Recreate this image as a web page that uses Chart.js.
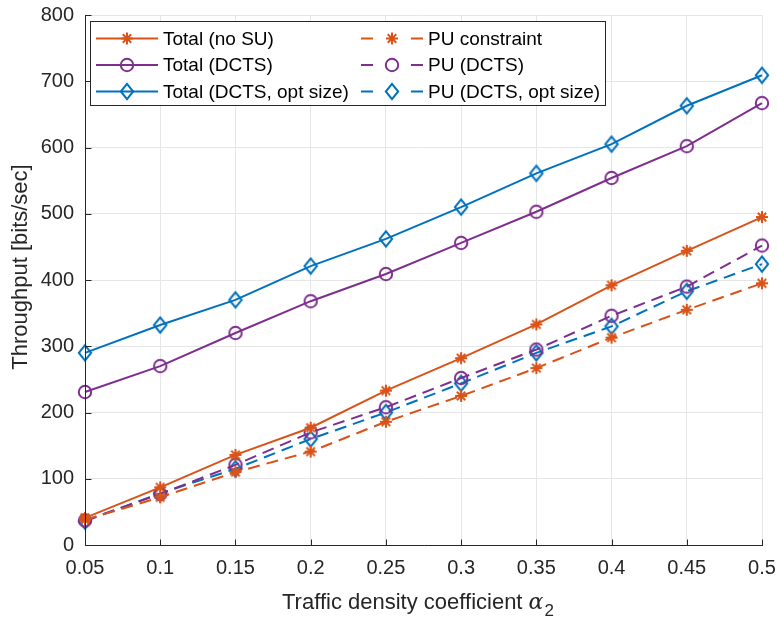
<!DOCTYPE html>
<html>
<head>
<meta charset="utf-8">
<script src="https://cdn.jsdelivr.net/npm/chart.js@4/dist/chart.umd.min.js"></script>
<style>
  html, body { margin: 0; padding: 0; background: #fff; }
  #wrap { width: 778px; height: 619px; }
</style>
</head>
<body>
<div id="wrap"><canvas id="c" width="778" height="619"></canvas></div>
<script>
// ---- data ----
const categories = [0.05, 0.1, 0.15, 0.2, 0.25, 0.3, 0.35, 0.4, 0.45, 0.5];
const xTickLabels = ['0.05', '0.1', '0.15', '0.2', '0.25', '0.3', '0.35', '0.4', '0.45', '0.5'];
const yTicks = [0, 100, 200, 300, 400, 500, 600, 700, 800];
const totalNoSU   = [41, 87, 136, 177, 233, 282, 333, 392, 444, 495];
const totalDCTS   = [231, 270, 320, 368, 409, 456, 503, 554, 602, 667];
const totalOpt    = [290, 332, 370, 421, 462, 510, 561, 605, 663, 709];
const puConstr    = [38, 72, 110, 141, 186, 225, 267, 313, 355, 395];
const puDCTS      = [37, 77, 121, 170, 208, 252, 295, 346, 390, 452];
const puOpt       = [36, 78, 115, 160, 200, 244, 290, 330, 383, 424];
const seriesLabels = ['Total (no SU)', 'Total (DCTS)', 'Total (DCTS, opt size)',
                      'PU constraint', 'PU (DCTS)', 'PU (DCTS, opt size)'];

const ORANGE = '#D95319', PURPLE = '#7E2F8E', BLUE = '#0072BD';
const AXIS = '#262626';
const FONT = '"Liberation Sans", Arial, Helvetica, sans-serif';
const DASH = [12, 7];

function drawMarker(ctx, type, x, y, color) {
  ctx.save();
  ctx.strokeStyle = color;
  ctx.lineWidth = 2;
  ctx.setLineDash([]);
  ctx.beginPath();
  if (type === 'star') {
    const r = 6;
    for (let k = 0; k < 4; k++) {
      const a = k * Math.PI / 4;
      ctx.moveTo(x - r * Math.cos(a), y - r * Math.sin(a));
      ctx.lineTo(x + r * Math.cos(a), y + r * Math.sin(a));
    }
  } else if (type === 'circle') {
    ctx.arc(x, y, 6.2, 0, Math.PI * 2);
  } else if (type === 'diamond') {
    ctx.moveTo(x, y - 7.6);
    ctx.lineTo(x + 6.2, y);
    ctx.lineTo(x, y + 7.6);
    ctx.lineTo(x - 6.2, y);
    ctx.closePath();
  }
  ctx.stroke();
  ctx.restore();
}

function markerCanvas(type, color) {
  const c = document.createElement('canvas');
  c.width = 22; c.height = 22;
  drawMarker(c.getContext('2d'), type, 11, 11, color);
  return c;
}

const specs = [
  { data: totalNoSU, color: ORANGE, marker: 'star', dash: [] },
  { data: totalDCTS, color: PURPLE, marker: 'circle', dash: [] },
  { data: totalOpt,  color: BLUE,   marker: 'diamond', dash: [] },
  { data: puConstr,  color: ORANGE, marker: 'star', dash: DASH },
  { data: puDCTS,    color: PURPLE, marker: 'circle', dash: DASH },
  { data: puOpt,     color: BLUE,   marker: 'diamond', dash: DASH }
];

const datasets = specs.map((s, i) => ({
  label: seriesLabels[i],
  data: categories.map((x, j) => ({ x: x, y: s.data[j] })),
  borderColor: s.color,
  backgroundColor: s.color,
  borderWidth: 2,
  borderDash: s.dash,
  pointStyle: markerCanvas(s.marker, s.color),
  pointRadius: 8,
  pointHoverRadius: 8,
  tension: 0,
  fill: false,
  clip: 10
}));

const decorPlugin = {
  id: 'decor',
  afterDraw(chart) {
    const ctx = chart.ctx;
    const a = chart.chartArea;
    const xs = chart.scales.x, ys = chart.scales.y;
    ctx.save();
    // axes lines (left + bottom only)
    ctx.strokeStyle = AXIS;
    ctx.lineWidth = 1;
    const L = Math.round(a.left) + 0.5, B = Math.round(a.bottom) + 0.5;
    ctx.beginPath();
    ctx.moveTo(L, Math.round(a.top)); ctx.lineTo(L, B);
    ctx.lineTo(Math.round(a.right) + 1, B);
    // inner ticks
    categories.forEach(v => {
      const px = Math.round(xs.getPixelForValue(v)) + 0.5;
      ctx.moveTo(px, B); ctx.lineTo(px, B - 6);
    });
    yTicks.forEach(v => {
      const py = Math.round(ys.getPixelForValue(v)) + 0.5;
      ctx.moveTo(L, py); ctx.lineTo(L + 6, py);
    });
    ctx.stroke();

    // y title
    ctx.fillStyle = AXIS;
    ctx.font = '22px ' + FONT;
    ctx.textAlign = 'center';
    ctx.textBaseline = 'middle';
    ctx.save();
    ctx.translate(21, 267);
    ctx.rotate(-Math.PI / 2);
    ctx.fillText('Throughput [bits/sec]', 0, 0);
    ctx.restore();

    // x title with italic alpha and subscript 2
    const main = 'Traffic density coefficient ';
    let sx = 282;
    const by = 609;
    ctx.textAlign = 'left';
    ctx.textBaseline = 'alphabetic';
    ctx.font = '22px ' + FONT;
    ctx.fillText(main, sx, by);
    sx += ctx.measureText(main).width;
    ctx.font = 'italic 22px "DejaVu Serif", "Liberation Serif", serif';
    ctx.fillText('α', sx, by);
    sx += ctx.measureText('α').width + 1;
    ctx.font = '17px ' + FONT;
    ctx.fillText('2', sx, by + 7);

    // legend
    const lx = 90, ly = 21, lw = 515, lh = 84;
    ctx.fillStyle = '#fff';
    ctx.fillRect(lx, ly, lw, lh);
    ctx.strokeStyle = AXIS;
    ctx.lineWidth = 1;
    ctx.strokeRect(lx + 0.5, ly + 0.5, lw, lh);
    const rows = [38.5, 65, 91.5];
    const cols = [{ l0: 96, l1: 158, t: 163 }, { l0: 361, l1: 423, t: 428 }];
    ctx.font = '19px ' + FONT;
    ctx.textBaseline = 'middle';
    specs.forEach((s, i) => {
      const col = cols[Math.floor(i / 3)];
      const y = rows[i % 3];
      ctx.save();
      ctx.strokeStyle = s.color;
      ctx.lineWidth = 2;
      ctx.beginPath();
      if (s.dash.length) {
        ctx.moveTo(col.l0, y); ctx.lineTo(col.l0 + 12, y);
        ctx.moveTo(col.l1 - 12, y); ctx.lineTo(col.l1, y);
      } else {
        ctx.moveTo(col.l0, y); ctx.lineTo(col.l1, y);
      }
      ctx.stroke();
      ctx.restore();
      drawMarker(ctx, s.marker, (col.l0 + col.l1) / 2, y, s.color);
      ctx.fillStyle = '#000';
      ctx.textAlign = 'left';
      ctx.fillText(seriesLabels[i], col.t, y + 1);
    });
    ctx.restore();
  }
};

new Chart(document.getElementById('c'), {
  type: 'line',
  data: { datasets: datasets },
  options: {
    responsive: false,
    animation: false,
    events: [],
    layout: { padding: { left: 0, right: 16, top: 15, bottom: 0 } },
    plugins: { legend: { display: false }, tooltip: { enabled: false }, title: { display: false } },
    scales: {
      x: {
        type: 'linear',
        min: 0.05, max: 0.5,
        afterBuildTicks(scale) { scale.ticks = categories.map(v => ({ value: v })); },
        afterFit(scale) {
          scale.height = 74;
          scale.paddingLeft = 0; scale.paddingRight = 0;
        },
        ticks: {
          callback: (v, i) => xTickLabels[i],
          color: AXIS,
          font: { family: FONT, size: 20 },
          padding: 11,
          maxRotation: 0,
          autoSkip: false
        },
        grid: { color: '#e6e6e6', drawTicks: false, lineWidth: 1 },
        border: { display: false }
      },
      y: {
        type: 'linear',
        min: 0, max: 800,
        afterBuildTicks(scale) { scale.ticks = yTicks.map(v => ({ value: v })); },
        afterFit(scale) {
          scale.width = 85;
          scale.paddingTop = 0; scale.paddingBottom = 0;
        },
        ticks: {
          color: AXIS,
          font: { family: FONT, size: 20 },
          padding: 11
        },
        grid: { color: '#e6e6e6', drawTicks: false, lineWidth: 1 },
        border: { display: false }
      }
    }
  },
  plugins: [decorPlugin]
});
</script>
</body>
</html>
